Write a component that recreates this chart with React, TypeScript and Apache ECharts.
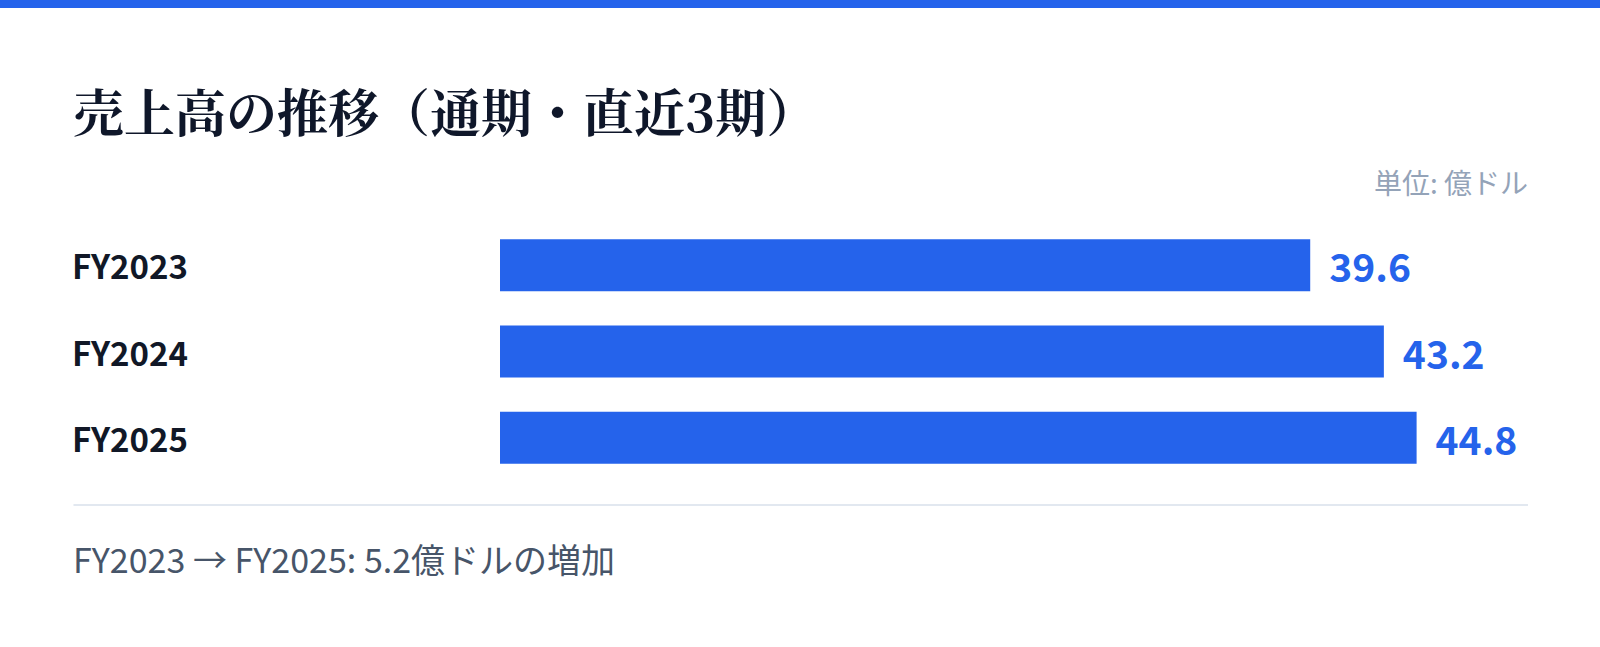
import { useEffect, useRef } from 'react';
import * as echarts from 'echarts';

const periods = ['FY2023', 'FY2024', 'FY2025'];
const sales = [39.6, 43.2, 44.8];
const titleText = '売上高の推移（通期・直近3期）';
const unitText = '単位: 億ドル';
const footerText = 'FY2023 → FY2025: 5.2億ドルの増加';

const BLUE = '#2563eb';
const SANS = '"Noto Sans CJK JP", "Noto Sans", sans-serif';

export default function App() {
  const ref = useRef<HTMLDivElement>(null);

  useEffect(() => {
    if (!ref.current) return;
    const chart = echarts.init(ref.current, undefined, { renderer: 'svg' });
    chart.setOption({
      animation: false,
      backgroundColor: '#ffffff',
      title: {
        text: titleText,
        left: 68,
        top: 79,
        textStyle: {
          color: '#0f172a',
          fontSize: 51,
          fontWeight: 'bold',
          fontFamily: '"Noto Serif CJK JP", serif, "Noto Sans CJK JP"',
        },
      },
      grid: { left: 500, right: 77, top: 222, bottom: 166 },
      xAxis: { type: 'value', min: 0, max: 50, show: false },
      yAxis: {
        type: 'category',
        data: periods,
        inverse: true,
        axisLine: { show: false },
        axisTick: { show: false },
        axisLabel: {
          align: 'left',
          margin: 428,
          color: '#111827',
          fontSize: 33,
          fontWeight: 'bold',
          fontFamily: SANS,
        },
      },
      series: [
        {
          type: 'bar',
          data: sales,
          barWidth: 52,
          itemStyle: { color: BLUE },
          label: {
            show: true,
            position: 'right',
            distance: 19,
            color: BLUE,
            fontSize: 39,
            fontWeight: 'bold',
            fontFamily: SANS,
            formatter: (p: any) => p.value.toFixed(1),
          },
        },
      ],
      graphic: [
        { type: 'rect', left: 0, top: 0, shape: { width: 1600, height: 8 }, style: { fill: BLUE } },
        {
          type: 'text',
          right: 72,
          top: 168,
          style: { text: unitText, fill: '#94a3b8', fontSize: 28, fontFamily: SANS },
        },
        {
          type: 'line',
          shape: { x1: 73.5, y1: 505, x2: 1528, y2: 505 },
          style: { stroke: '#e2e8f0', lineWidth: 2 },
        },
        {
          type: 'text',
          left: 73,
          top: 541,
          style: { text: footerText, fill: '#475569', fontSize: 34, fontFamily: SANS },
        },
      ],
    });
    return () => chart.dispose();
  }, []);

  return (
    <div
      ref={ref}
      style={{ position: 'fixed', left: 0, top: 0, width: '100vw', height: '100vh' }}
    />
  );
}
